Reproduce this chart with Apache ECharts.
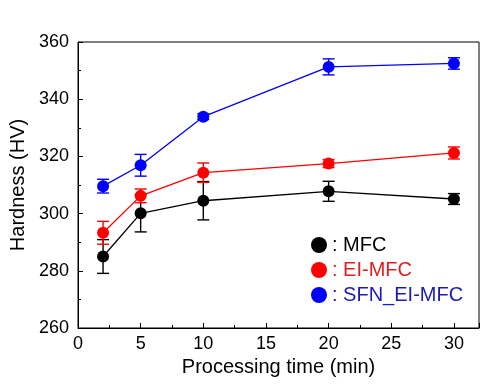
<!DOCTYPE html>
<html>
<head>
<meta charset="utf-8">
<script src="https://cdn.jsdelivr.net/npm/echarts@6/dist/echarts.min.js"></script>
<style>
html,body{margin:0;padding:0;background:#fff;}
#main{width:494px;height:390px;}
</style>
</head>
<body>
<div id="main"></div>
<script>
var times = [2, 5, 10, 20, 30];
var seriesNames = ['MFC', 'EI-MFC', 'SFN_EI-MFC'];
var mfcValues = [285.0, 300.1, 304.5, 307.8, 305.1];
var mfcErrors = [5.9, 6.5, 6.7, 3.5, 1.9];
var eiValues = [293.3, 306.2, 314.3, 317.5, 321.2];
var eiErrors = [4.0, 2.4, 3.4, 1.4, 2.1];
var sfnValues = [309.6, 316.9, 333.9, 351.3, 352.5];
var sfnErrors = [2.4, 3.8, 1.0, 2.8, 2.0];
var xTickLabels = ['0', '5', '10', '15', '20', '25', '30'];
var yTickLabels = ['260', '280', '300', '320', '340', '360'];

var colors = ['#000000', '#ff0000', '#0000ff'];
var textColors = ['#000000', '#e02020', '#1a1ab8'];
var font = 'Liberation Sans, Arial, sans-serif';

function pts(vals) { return times.map(function (t, i) { return [t, vals[i]]; }); }
function errData(vals, errs) { return times.map(function (t, i) { return [t, vals[i] - errs[i], vals[i] + errs[i]]; }); }

function errSeries(name, vals, errs, color) {
  return {
    type: 'custom',
    name: name + ' err',
    data: errData(vals, errs),
    z: 2,
    silent: true,
    renderItem: function (params, api) {
      var lo = api.coord([api.value(0), api.value(1)]);
      var hi = api.coord([api.value(0), api.value(2)]);
      var w = 6;
      var st = { stroke: color, lineWidth: 1.4 };
      return {
        type: 'group',
        children: [
          { type: 'line', shape: { x1: lo[0], y1: lo[1], x2: hi[0], y2: hi[1] }, style: st },
          { type: 'line', shape: { x1: lo[0] - w, y1: lo[1], x2: lo[0] + w, y2: lo[1] }, style: st },
          { type: 'line', shape: { x1: hi[0] - w, y1: hi[1], x2: hi[0] + w, y2: hi[1] }, style: st }
        ]
      };
    }
  };
}

function lineSeries(name, vals, color) {
  return {
    type: 'line',
    name: name,
    data: pts(vals),
    symbol: 'circle',
    symbolSize: 12,
    z: 3,
    itemStyle: { color: color },
    lineStyle: { color: color, width: 1.3 }
  };
}

var chart = echarts.init(document.getElementById('main'), null, { renderer: 'canvas' });
chart.setOption({
  animation: false,
  backgroundColor: '#fff',
  grid: { left: 78, right: 15, top: 42, bottom: 62, show: true, borderColor: '#000', borderWidth: 1, containLabel: false },
  legend: {
    orient: 'vertical',
    left: 306,
    top: 230,
    icon: 'circle',
    itemWidth: 16,
    itemHeight: 16,
    itemGap: 5,
    formatter: ': {name}',
    data: seriesNames.map(function (n, i) {
      return { name: n, textStyle: { color: textColors[i], fontSize: 20, fontFamily: font } };
    }),
    textStyle: { fontSize: 20, fontFamily: font }
  },
  xAxis: {
    type: 'value',
    min: 0, max: 32, interval: 5,
    name: 'Processing time (min)',
    nameLocation: 'middle',
    nameGap: 20,
    nameTextStyle: { fontSize: 20, color: '#000', fontFamily: font },
    axisLine: { show: true, lineStyle: { color: '#000', width: 1 } },
    axisTick: { show: true, inside: true, length: 5, lineStyle: { color: '#000' } },
    minorTick: { show: true, splitNumber: 2, length: 3, lineStyle: { color: '#000' } },
    splitLine: { show: false },
    axisLabel: {
      fontSize: 18, color: '#000', fontFamily: font, margin: 7,
      showMaxLabel: false,
      formatter: function (v) { var s = String(v); return xTickLabels.indexOf(s) >= 0 ? s : ''; }
    }
  },
  yAxis: {
    type: 'value',
    min: 260, max: 360, interval: 20,
    name: 'Hardness (HV)',
    nameLocation: 'middle',
    nameGap: 47,
    nameTextStyle: { fontSize: 20, color: '#000', fontFamily: font },
    axisLine: { show: true, lineStyle: { color: '#000', width: 1 } },
    axisTick: { show: true, inside: true, length: 5, lineStyle: { color: '#000' } },
    minorTick: { show: true, splitNumber: 2, length: 3, lineStyle: { color: '#000' } },
    splitLine: { show: false },
    axisLabel: {
      fontSize: 18, color: '#000', fontFamily: font, margin: 9,
      formatter: function (v) { var s = String(v); return yTickLabels.indexOf(s) >= 0 ? s : ''; }
    }
  },
  series: [
    errSeries(seriesNames[0], mfcValues, mfcErrors, colors[0]),
    errSeries(seriesNames[1], eiValues, eiErrors, colors[1]),
    errSeries(seriesNames[2], sfnValues, sfnErrors, colors[2]),
    lineSeries(seriesNames[0], mfcValues, colors[0]),
    lineSeries(seriesNames[1], eiValues, colors[1]),
    lineSeries(seriesNames[2], sfnValues, colors[2])
  ]
});
</script>
</body>
</html>
